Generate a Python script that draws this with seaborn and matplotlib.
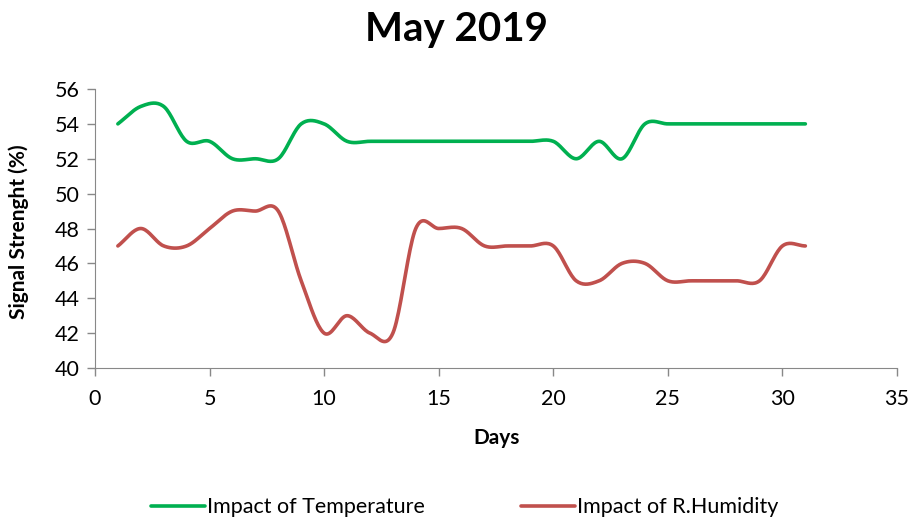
"""
May 2019 signal strength chart (Excel-style smoothed lines).
"""

import numpy as np
import pandas as pd
import matplotlib
matplotlib.use("Agg")
import matplotlib.pyplot as plt
import seaborn as sns

# --- data ---
days = list(range(1, 32))
temperature = [54, 55, 55, 53, 53, 52, 52, 52, 54, 54, 53, 53, 53, 53, 53, 53,
               53, 53, 53, 53, 52, 53, 52, 54, 54, 54, 54, 54, 54, 54, 54]
humidity = [47, 48, 47, 47, 48, 49, 49, 49, 45, 42, 43, 42, 42, 48, 48, 48,
            47, 47, 47, 47, 45, 45, 46, 46, 45, 45, 45, 45, 45, 47, 47]
series_names = ["Impact of Temperature", "Impact of R.Humidity"]
series_colors = ["#00B050", "#C0504D"]
x_ticks = [0, 5, 10, 15, 20, 25, 30, 35]
y_ticks = [40, 42, 44, 46, 48, 50, 52, 54, 56]


def smooth(x, y, n=20):
    # Catmull-Rom curve through the points, like Excel's "smoothed line"
    x = np.asarray(x, float)
    y = np.asarray(y, float)
    xs, ys = [], []
    for i in range(len(x) - 1):
        p0 = i - 1 if i > 0 else i
        p3 = i + 2 if i + 2 < len(x) else i + 1
        t = np.linspace(0, 1, n, endpoint=False)
        for arr, out in ((x, xs), (y, ys)):
            a, b, c, d = arr[p0], arr[i], arr[i + 1], arr[p3]
            m1 = (c - a) / 2 * (1 if p0 != i else 2)
            m2 = (d - b) / 2 * (1 if p3 != i + 1 else 2)
            h00 = 2 * t**3 - 3 * t**2 + 1
            h10 = t**3 - 2 * t**2 + t
            h01 = -2 * t**3 + 3 * t**2
            h11 = t**3 - t**2
            out.extend(h00 * b + h10 * m1 + h01 * c + h11 * m2)
    xs.append(x[-1])
    ys.append(y[-1])
    return np.array(xs), np.array(ys)


frames = []
for name, vals in zip(series_names, [temperature, humidity]):
    sx, sy = smooth(days, vals)
    frames.append(pd.DataFrame({"Days": sx, "value": sy, "series": name}))
df = pd.concat(frames, ignore_index=True)

sns.set_style("white")
plt.rcParams["font.family"] = ["Lato", "DejaVu Sans"]
plt.rcParams["text.color"] = "black"
plt.rcParams["axes.labelcolor"] = "black"

fig = plt.figure(figsize=(9.13, 5.22), dpi=100)
ax = fig.add_axes([0.104, 0.295, 0.8785, 0.5345])

sns.lineplot(data=df, x="Days", y="value", hue="series", sort=False,
             palette=dict(zip(series_names, series_colors)),
             linewidth=2.6, ax=ax, estimator=None)

ax.set_xlim(0, 35)
ax.set_ylim(40, 56)
ax.set_xticks(x_ticks)
ax.set_yticks(y_ticks)
ax.tick_params(axis="both", labelsize=15.5, colors="#888888", labelcolor="black",
               direction="out", length=6, width=1, bottom=True, left=True)
ax.tick_params(axis="x", pad=9)
ax.tick_params(axis="y", pad=5)
for side in ["top", "right"]:
    ax.spines[side].set_visible(False)
for side in ["left", "bottom"]:
    ax.spines[side].set_color("#888888")

ax.set_xlabel("Days", fontsize=15, fontweight="bold")
ax.xaxis.set_label_coords(0.501, -0.215)
ax.set_ylabel("Signal Strenght (%)", fontsize=15, fontweight="bold")
ax.yaxis.set_label_coords(-0.082, 0.49)
fig.text(0.5, 0.943, "May 2019", fontsize=29, fontweight="bold",
         ha="center", va="center", color="black")

handles, labels = ax.get_legend_handles_labels()
ax.get_legend().remove()
fig.legend(handles, labels, loc="center", bbox_to_anchor=(0.509, 0.028), ncol=2,
           frameon=False, fontsize=15.5, handlelength=2.5, columnspacing=4.5,
           handletextpad=0.1, labelcolor="black")

fig.savefig("out.png", dpi=100)
